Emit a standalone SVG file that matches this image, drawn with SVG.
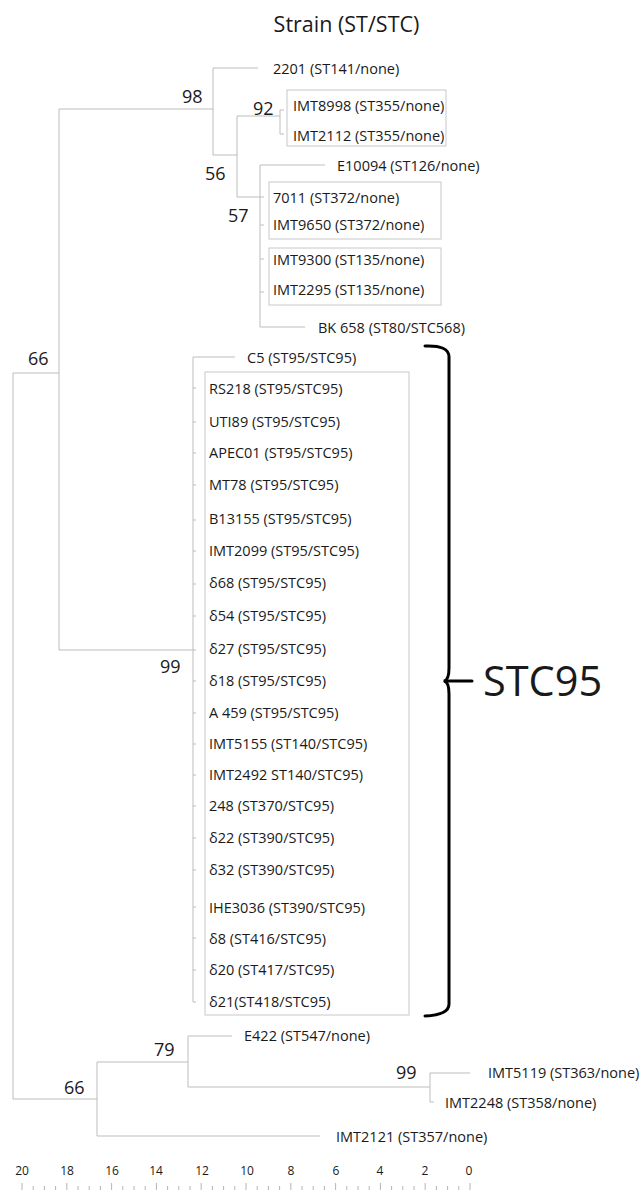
<svg xmlns="http://www.w3.org/2000/svg" width="643" height="1203" viewBox="0 0 643 1203">
<style>
text{font-family:"Open Sans","Noto Sans","Liberation Sans",sans-serif;fill:#1a1a1a}
.lf{font-size:14.5px}
.bs{font-size:18px}
.ax{font-size:12px;fill:#444}
.tr{stroke:#bdbdbd;stroke-width:1;fill:none}
.bx{stroke:#c8c8c8;stroke-width:1;fill:none}
.tk{stroke:#b5b5b5;stroke-width:1}
.br{stroke:#000;stroke-width:3;fill:none;stroke-linecap:round}
</style>
<rect width="643" height="1203" fill="#fff"/>
<text x="346.5" y="32" font-size="21.5" text-anchor="middle">Strain (ST/STC)</text>

<g id="connectors" class="tr">
<path d="M13,373V1099M13,373H59M13,1099H97"/>
<path d="M59,109V650M59,109H213M59,650H193"/>
<path d="M213,68V155M213,68H258M213,155H237"/>
<path d="M237,116V197M237,116H280M237,197H260"/>
<path d="M280,110V134M280,110H284M280,134H284"/>
<path d="M260,165V327M260,165H325M260,197H264M260,225H264M260,259H264M260,292H264M260,327H305"/>
<path d="M193,357V1002M193,357H235M193,388H196M193,422H196M193,453H196M193,485H196M193,520H196M193,551H196M193,584H196M193,616H196M193,650H196M193,681H196M193,713H196M193,744H196M193,775H196M193,806H196M193,838H196M193,870H196M193,907H196M193,938H196M193,970H196M193,1002H196"/>
<path d="M97,1062V1136M97,1062H188M97,1136H320"/>
<path d="M188,1036V1087M188,1036H232M188,1087H430"/>
<path d="M430,1073V1102M430,1073H470M430,1102H434"/>
</g>

<g id="groups">
<rect id="box-st355" class="bx" x="287" y="90" width="159" height="56"/>
<rect id="box-st372" class="bx" x="269" y="182" width="172" height="57"/>
<rect id="box-st135" class="bx" x="269" y="248" width="172" height="57"/>
<rect id="box-stc95" class="bx" x="205" y="372" width="204" height="643"/>
</g>

<g id="bootstrap" class="bs">
<text id="n98" x="182" y="103">98</text>
<text id="n92" x="253" y="115">92</text>
<text id="n56" x="205" y="180">56</text>
<text id="n57" x="228" y="222">57</text>
<text id="n66a" x="28" y="365">66</text>
<text id="n99a" x="160" y="673">99</text>
<text id="n79" x="154" y="1056">79</text>
<text id="n99b" x="396" y="1079">99</text>
<text id="n66b" x="64" y="1094">66</text>
</g>

<g id="leaves" class="lf">
<g id="l2201"><text x="273" y="74">2201 (ST141/none)</text></g>
<g id="lIMT8998"><text x="293" y="111">IMT8998 (ST355/none)</text></g>
<g id="lIMT2112"><text x="293" y="141">IMT2112 (ST355/none)</text></g>
<g id="lE10094"><text x="337" y="171">E10094 (ST126/none)</text></g>
<g id="l7011"><text x="273" y="203">7011 (ST372/none)</text></g>
<g id="lIMT9650"><text x="273" y="230">IMT9650 (ST372/none)</text></g>
<g id="lIMT9300"><text x="273" y="265">IMT9300 (ST135/none)</text></g>
<g id="lIMT2295"><text x="273" y="295">IMT2295 (ST135/none)</text></g>
<g id="lBK658"><text x="318" y="333">BK 658 (ST80/STC568)</text></g>
<g id="lC5"><text x="247" y="363">C5 (ST95/STC95)</text></g>
<g id="lRS218"><text x="209" y="394">RS218 (ST95/STC95)</text></g>
<g id="lUTI89"><text x="209" y="427">UTI89 (ST95/STC95)</text></g>
<g id="lAPEC01"><text x="209" y="458">APEC01 (ST95/STC95)</text></g>
<g id="lMT78"><text x="209" y="490">MT78 (ST95/STC95)</text></g>
<g id="lB13155"><text x="209" y="524">B13155 (ST95/STC95)</text></g>
<g id="lIMT2099"><text x="209" y="556">IMT2099 (ST95/STC95)</text></g>
<g id="ld68"><text x="209" y="588">δ68 (ST95/STC95)</text></g>
<g id="ld54"><text x="209" y="621">δ54 (ST95/STC95)</text></g>
<g id="ld27"><text x="209" y="654">δ27 (ST95/STC95)</text></g>
<g id="ld18"><text x="209" y="686">δ18 (ST95/STC95)</text></g>
<g id="lA459"><text x="209" y="718">A 459 (ST95/STC95)</text></g>
<g id="lIMT5155"><text x="209" y="749">IMT5155 (ST140/STC95)</text></g>
<g id="lIMT2492"><text x="209" y="780">IMT2492 ST140/STC95)</text></g>
<g id="l248"><text x="209" y="811">248 (ST370/STC95)</text></g>
<g id="ld22"><text x="209" y="843">δ22 (ST390/STC95)</text></g>
<g id="ld32"><text x="209" y="875">δ32 (ST390/STC95)</text></g>
<g id="lIHE3036"><text x="209" y="913">IHE3036 (ST390/STC95)</text></g>
<g id="ld8"><text x="209" y="944">δ8 (ST416/STC95)</text></g>
<g id="ld20"><text x="209" y="975">δ20 (ST417/STC95)</text></g>
<g id="ld21"><text x="209" y="1007">δ21(ST418/STC95)</text></g>
<g id="lE422"><text x="244" y="1041">E422 (ST547/none)</text></g>
<g id="lIMT5119"><text x="488" y="1078">IMT5119 (ST363/none)</text></g>
<g id="lIMT2248"><text x="445" y="1108">IMT2248 (ST358/none)</text></g>
<g id="lIMT2121"><text x="336" y="1142">IMT2121 (ST357/none)</text></g>
</g>

<g id="stc95-brace">
<path class="br" d="M425,346Q449,345 449,357L449,668Q449,680 444,681Q449,682 449,694L449,1004Q449,1015 425,1016"/>
<path class="br" d="M445,681H472"/>
<text x="483" y="696" font-size="41.5">STC95</text>
</g>

<g id="axis">
<g class="ax" text-anchor="middle">
<text x="22" y="1175">20</text><text x="67" y="1175">18</text><text x="112" y="1175">16</text><text x="156" y="1175">14</text><text x="202" y="1175">12</text><text x="247" y="1175">10</text><text x="291" y="1175">8</text><text x="336" y="1175">6</text><text x="380" y="1175">4</text><text x="425" y="1175">2</text><text x="469" y="1175">0</text>
</g>
<path class="tk" d="M22,1183v7M33.2,1186v4M44.4,1186v4M55.6,1186v4M66.8,1183v7M78,1186v4M89.2,1186v4M100.4,1186v4M111.6,1183v7M122.8,1186v4M134,1186v4M145.2,1186v4M156.4,1183v7M167.6,1186v4M178.8,1186v4M190,1186v4M201.2,1183v7M212.4,1186v4M223.6,1186v4M234.8,1186v4M246,1183v7M257.2,1186v4M268.4,1186v4M279.6,1186v4M290.8,1183v7M302,1186v4M313.2,1186v4M324.4,1186v4M335.6,1183v7M346.8,1186v4M358,1186v4M369.2,1186v4M380.4,1183v7M391.6,1186v4M402.8,1186v4M414,1186v4M425.2,1183v7M436.4,1186v4M447.6,1186v4M458.8,1186v4M470,1183v7"/>
</g>
</svg>
